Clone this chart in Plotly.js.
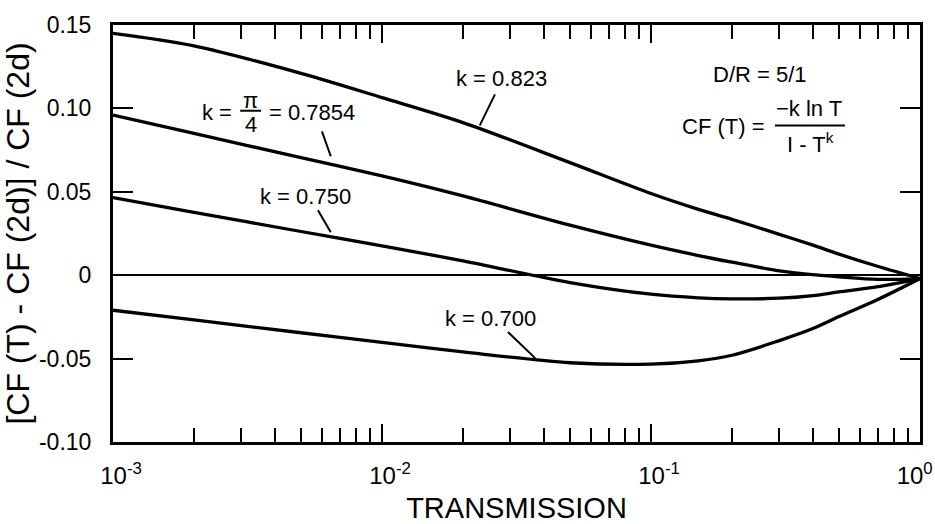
<!DOCTYPE html>
<html>
<head>
<meta charset="utf-8">
<script src="https://cdn.plot.ly/plotly-3.0.1.min.js"></script>
<style>html,body{margin:0;padding:0;background:#fff;}#chart{width:935px;height:524px;}</style>
</head>
<body>
<div id="chart"></div>
<script>
// Transmission values (x) and relative deviation for each k (y)
const transmission = [0.001, 0.002, 0.005, 0.01, 0.02, 0.05, 0.1, 0.15, 0.2, 0.3, 0.4, 0.5, 0.7, 1.0];
const k0823  = [0.145, 0.1375, 0.121, 0.1065, 0.0915, 0.0675, 0.049, 0.0395, 0.0335, 0.0245, 0.018, 0.0126, 0.0052, -0.002];
const k07854 = [0.096, 0.085, 0.0705, 0.0595, 0.0475, 0.030, 0.018, 0.0118, 0.0078, 0.0026, 0.0003, -0.001, -0.0025, -0.002];
const k0750  = [0.0465, 0.0377, 0.0262, 0.0176, 0.0086, -0.0044, -0.0114, -0.0136, -0.0142, -0.0138, -0.0122, -0.010, -0.0068, -0.002];
const k0700  = [-0.021, -0.0268, -0.0345, -0.0403, -0.046, -0.0525, -0.0533, -0.0513, -0.048, -0.0392, -0.032, -0.0248, -0.0144, -0.002];
const seriesNames = ['k = 0.823', 'k = π/4 = 0.7854', 'k = 0.750', 'k = 0.700'];

const xTickVals = [0.001, 0.01, 0.1, 1];
const xTickText = ['10<sup>-3</sup>', '10<sup>-2</sup>', '10<sup>-1</sup>', '10<sup>0</sup>\u00a0\u00a0\u00a0\u00a0'];
const yTickVals = [-0.10, -0.05, 0, 0.05, 0.10, 0.15];
const yTickText = ['-0.10', '-0.05', '0', '0.05', '0.10', '0.15'];

const minorVals = [];
[0.001, 0.01, 0.1].forEach(d => { for (let m = 2; m <= 9; m++) minorVals.push(d * m); });

const FONT = 'Liberation Sans, Arial, Helvetica, sans-serif';
const allSeries = [k0823, k07854, k0750, k0700];
const traces = allSeries.map((ys, i) => ({
  x: transmission, y: ys, name: seriesNames[i], type: 'scatter', mode: 'lines',
  line: {color: '#000', width: 3.3, shape: 'spline', smoothing: 0.9},
  hoverinfo: 'skip'
}));

const lg = v => Math.log10(v);
const ann = (text, xv, yv, extra) => Object.assign({
  text, x: lg(xv), y: yv, xref: 'x', yref: 'y', showarrow: false,
  font: {family: FONT, size: 22, color: '#000'}, xanchor: 'center', yanchor: 'middle'
}, extra || {});
const seg = (x0, y0, x1, y1, w) => ({type: 'line', xref: 'x', yref: 'y', x0, y0, x1, y1,
  line: {color: '#000', width: w || 2}});

const layout = {
  width: 935, height: 524,
  margin: {l: 113, r: 15, t: 25, b: 82},
  paper_bgcolor: '#fff', plot_bgcolor: '#fff',
  showlegend: false,
  font: {family: FONT, color: '#000', size: 22},
  xaxis: {
    type: 'log', range: [-3, 0], showgrid: false, zeroline: false,
    showline: true, linecolor: '#000', linewidth: 3, mirror: 'allticks',
    ticks: 'inside', ticklen: 18, tickwidth: 2, tickcolor: '#000',
    tickmode: 'array', tickvals: xTickVals, ticktext: xTickText,
    tickfont: {family: FONT, size: 24, color: '#000'},
    ticklabelshift: 8, ticklabelstandoff: 10, ticklabeloverflow: 'allow',
    minor: {tickmode: 'array', tickvals: minorVals, ticks: 'inside', ticklen: 14, tickwidth: 2, tickcolor: '#000', showgrid: false},
    title: {text: 'TRANSMISSION', font: {family: FONT, size: 29, color: '#000'}, standoff: 12}
  },
  yaxis: {
    range: [-0.10, 0.15], showgrid: false,
    zeroline: true, zerolinecolor: '#000', zerolinewidth: 2,
    showline: true, linecolor: '#000', linewidth: 3, mirror: 'allticks',
    ticks: 'inside', ticklen: 20, tickwidth: 2, tickcolor: '#000',
    tickmode: 'array', tickvals: yTickVals, ticktext: yTickText,
    tickfont: {family: FONT, size: 23, color: '#000'},
    ticklabelstandoff: 14,
    title: {text: '[CF (T) - CF (2d)] / CF (2d)', font: {family: FONT, size: 32, color: '#000'}, standoff: 4}
  },
  annotations: [
    ann('k = 0.823', 0.0277, 0.118),
    ann('k =', 0.002435, 0.0976),
    ann('π', 0.003258, 0.1045),
    ann('4', 0.003258, 0.0906),
    ann('= 0.7854', 0.0055, 0.0976),
    ann('k = 0.750', 0.00518, 0.0473),
    ann('k = 0.700', 0.0254, -0.0257),
    ann('D/R = 5/1', 0.254, 0.1204),
    ann('CF (T) =', 0.1866, 0.0892),
    ann('\u2212k ln T', 0.386, 0.0997),
    ann('I - T<sup>k</sup>', 0.39, 0.0795)
  ],
  shapes: [
    seg(0.0263, 0.1084, 0.0231, 0.0898),
    seg(0.00598, 0.0862, 0.00645, 0.0713),
    seg(0.00578, 0.0389, 0.00645, 0.0257),
    seg(0.0294, -0.0341, 0.0371, -0.0497),
    seg(0.00297, 0.0986, 0.00355, 0.0986, 2),
    seg(0.289, 0.0898, 0.526, 0.0898, 2)
  ]
};

Plotly.newPlot('chart', traces, layout, {displayModeBar: false, staticPlot: true});
</script>
</body>
</html>
